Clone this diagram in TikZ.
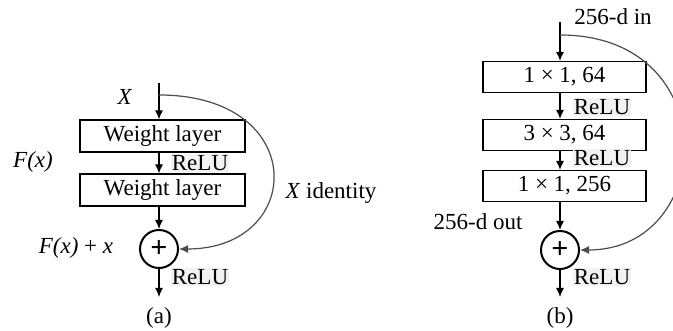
\documentclass[tikz,border=0pt]{standalone}
\usepackage{fontspec}
\setmainfont{Liberation Serif}
\usetikzlibrary{arrows.meta}
\begin{document}
\begin{tikzpicture}[x=1pt, y=-1pt,
    font=\fontsize{23}{27}\selectfont,
    layerStyle/.style={draw, line width=1.2pt, minimum width=165pt, minimum height=32pt, inner sep=0pt},
    sumStyle/.style={circle, draw, line width=2pt, minimum size=38pt, inner sep=0pt, font=\fontsize{30}{30}\bfseries},
    labelStyle/.style={inner sep=0pt},
    reluStyle/.style={fill=black!5, inner sep=1pt},
    arrowStyle/.style={-{Latex[length=9pt,width=8pt]}, line width=1.2pt},
    skipStyle/.style={-{Latex[length=9pt,width=8pt]}, line width=1.2pt, black!70}]
    \useasboundingbox (0,0) rectangle (673,331);

    % (a)
    \coordinate (inA) at (159, 83);
    \coordinate (splitA) at (159, 95);
    \node[layerStyle](wa1) at (162.5, 136) {Weight layer};
    \node[layerStyle](wa2) at (162.5, 190) {Weight layer};
    \node[sumStyle](suma) at (159, 249) {+};
    \coordinate (outA) at (159, 297);

    \node[labelStyle](xa) at (125, 97) {\textit{X}};
    \node[labelStyle](fx) at (33, 162) {\textit{F(x)}};
    \node[labelStyle](fxx) at (76, 248) {\textit{F(x)} + \textit{x}};
    \node[labelStyle](ida) at (331, 193) {\textit{X} identity};
    \node[reluStyle](ra1) at (200, 163) {ReLU};
    \node[reluStyle](ra2) at (200, 277) {ReLU};
    \node[labelStyle](capa) at (159, 318) {(a)};

    \draw[arrowStyle] (inA) -- (inA |- wa1.north);
    \draw[arrowStyle] (inA |- wa1.south) -- (inA |- wa2.north);
    \draw[arrowStyle] (inA |- wa2.south) -- (suma.north);
    \draw[arrowStyle] (suma.south) -- (outA);
    \draw[skipStyle] (splitA) .. controls (310, 95) and (305, 249) .. (suma.east);

    % (b)
    \coordinate (inB) at (560, 22);
    \coordinate (splitB) at (560, 35);
    \node[layerStyle, minimum width=163pt, minimum height=31pt](wb1) at (564.5, 77) {1 × 1, 64};
    \node[layerStyle, minimum width=163pt, minimum height=31pt](wb2) at (564.5, 135) {3 × 3, 64};
    \node[layerStyle, minimum width=163pt, minimum height=31pt](wb3) at (564.5, 186) {1 × 1, 256};
    \node[sumStyle](sumb) at (560, 250) {+};
    \coordinate (outB) at (560, 297);

    \node[labelStyle](inl) at (613, 17) {256-d in};
    \node[labelStyle](outl) at (478, 222) {256-d out};
    \node[reluStyle](rb1) at (602, 107) {ReLU};
    \node[reluStyle](rb2) at (602, 158) {ReLU};
    \node[reluStyle](rb3) at (602, 277) {ReLU};
    \node[labelStyle](capb) at (560, 318) {(b)};

    \draw[arrowStyle] (inB) -- (inB |- wb1.north);
    \draw[arrowStyle] (inB |- wb1.south) -- (inB |- wb2.north);
    \draw[arrowStyle] (inB |- wb2.south) -- (inB |- wb3.north);
    \draw[arrowStyle] (inB |- wb3.south) -- (sumb.north);
    \draw[arrowStyle] (sumb.south) -- (outB);
    \draw[skipStyle] (splitB) .. controls (726, 35) and (716, 250) .. (sumb.east);
\end{tikzpicture}
\end{document}
